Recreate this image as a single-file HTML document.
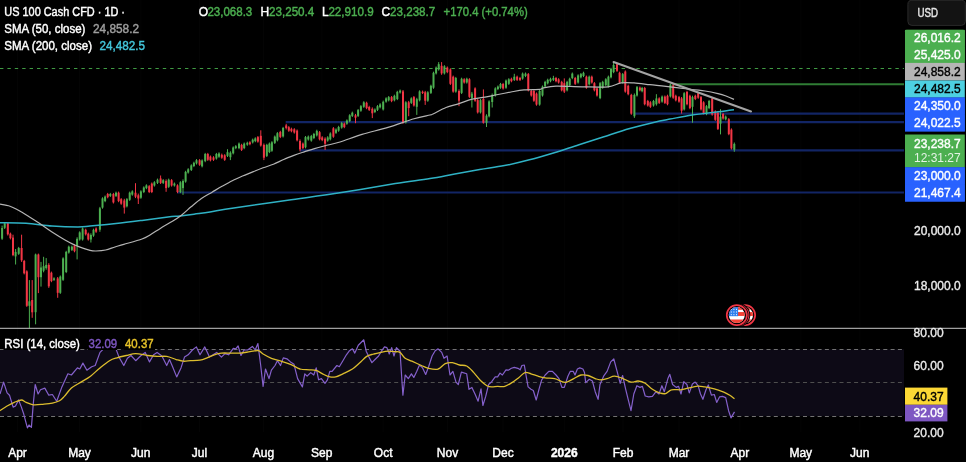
<!DOCTYPE html>
<html lang="en"><head><meta charset="utf-8"><title>US 100 Cash CFD</title>
<style>
html,body{margin:0;padding:0;background:#000;}
body{width:966px;height:462px;overflow:hidden;}
svg{display:block;font-family:"Liberation Sans",sans-serif;}
.t{font-size:12px;fill:#fff;stroke-width:0.42px;}
.ax{font-size:12px;fill:#ececec;stroke:#ececec;stroke-width:0.35px;}
.lb{font-size:12px;stroke-width:0.38px;}
</style></head><body>
<svg width="966" height="462" viewBox="0 0 966 462">
<rect width="966" height="462" fill="#000"/>
<g stroke="#fff" stroke-opacity="0.014" stroke-width="1">
<line x1="17.5" y1="0" x2="17.5" y2="432"/>
<line x1="79.5" y1="0" x2="79.5" y2="432"/>
<line x1="140.8" y1="0" x2="140.8" y2="432"/>
<line x1="199.5" y1="0" x2="199.5" y2="432"/>
<line x1="263.5" y1="0" x2="263.5" y2="432"/>
<line x1="321.8" y1="0" x2="321.8" y2="432"/>
<line x1="383.2" y1="0" x2="383.2" y2="432"/>
<line x1="447.5" y1="0" x2="447.5" y2="432"/>
<line x1="503" y1="0" x2="503" y2="432"/>
<line x1="564.3" y1="0" x2="564.3" y2="432"/>
<line x1="623" y1="0" x2="623" y2="432"/>
<line x1="679" y1="0" x2="679" y2="432"/>
<line x1="739.8" y1="0" x2="739.8" y2="432"/>
<line x1="800.8" y1="0" x2="800.8" y2="432"/>
<line x1="859.8" y1="0" x2="859.8" y2="432"/>
</g>
<rect x="0" y="349.3" width="904" height="66.9" fill="#0d0a16"/>
<g stroke-width="1" stroke-dasharray="4 3.3">
<line x1="0" y1="349.5" x2="904" y2="349.5" stroke="#727272"/>
<line x1="0" y1="382.5" x2="904" y2="382.5" stroke="#4e4e4e"/>
<line x1="0" y1="416.5" x2="904" y2="416.5" stroke="#727272"/>
</g>
<line x1="0" y1="68.5" x2="904" y2="68.5" stroke="#3f9a43" stroke-width="1" stroke-dasharray="3.4 4"/>
<line x1="672.5" y1="84.3" x2="904" y2="84.3" stroke="#2f7d34" stroke-width="2"/>
<g stroke="#122565" stroke-width="2.2">
<line x1="634" y1="113.7" x2="904" y2="113.7"/>
<line x1="285.7" y1="122.2" x2="904" y2="122.2"/>
<line x1="300" y1="150.4" x2="904" y2="150.4"/>
<line x1="177" y1="192.5" x2="904" y2="192.5"/>
</g>
<g fill="#4caf50" stroke="#4caf50" stroke-width="1">
<line x1="2.1" y1="225.6" x2="2.1" y2="239.9"/>
<rect x="1.1" y="228" width="2" height="10.7" stroke="none"/>
<line x1="4.7" y1="222.2" x2="4.7" y2="229"/>
<rect x="3.7" y="223.3" width="2" height="4.5" stroke="none"/>
<line x1="15.6" y1="249" x2="15.6" y2="264.5"/>
<rect x="14.6" y="251.9" width="2" height="4.5" stroke="none"/>
<line x1="18.7" y1="246.9" x2="18.7" y2="254.9"/>
<rect x="17.7" y="248" width="2" height="5.8" stroke="none"/>
<line x1="29.4" y1="280.1" x2="29.4" y2="328.2"/>
<rect x="28.4" y="301.3" width="2" height="4.5" stroke="none"/>
<line x1="35.6" y1="253.6" x2="35.6" y2="324.3"/>
<rect x="34.6" y="254.5" width="2" height="57.7" stroke="none"/>
<line x1="41" y1="261.9" x2="41" y2="286.6"/>
<rect x="40" y="267.5" width="2" height="9.7" stroke="none"/>
<line x1="43.6" y1="256.8" x2="43.6" y2="272.3"/>
<rect x="42.6" y="266.2" width="2" height="4.5" stroke="none"/>
<line x1="46.2" y1="258.1" x2="46.2" y2="269.7"/>
<rect x="45.2" y="264.9" width="2" height="3.2" stroke="none"/>
<line x1="54" y1="277.3" x2="54" y2="280.9"/>
<rect x="53" y="278.4" width="2" height="1.4" stroke="none"/>
<line x1="60.3" y1="275.5" x2="60.3" y2="293.9"/>
<rect x="59.3" y="276.6" width="2" height="16.2" stroke="none"/>
<line x1="63.1" y1="257.3" x2="63.1" y2="280.9"/>
<rect x="62.1" y="258.4" width="2" height="21.4" stroke="none"/>
<line x1="66.2" y1="250.8" x2="66.2" y2="273.1"/>
<rect x="65.2" y="251.9" width="2" height="20.1" stroke="none"/>
<line x1="68.8" y1="245.6" x2="68.8" y2="253.6"/>
<rect x="67.8" y="246.7" width="2" height="5.8" stroke="none"/>
<line x1="71.9" y1="245.6" x2="71.9" y2="251"/>
<rect x="70.9" y="246.7" width="2" height="3.2" stroke="none"/>
<line x1="77.1" y1="237.3" x2="77.1" y2="259.4"/>
<rect x="76.1" y="238.9" width="2" height="7.1" stroke="none"/>
<line x1="79.7" y1="231.3" x2="79.7" y2="240.6"/>
<rect x="78.7" y="232.4" width="2" height="7.1" stroke="none"/>
<line x1="82.6" y1="227.4" x2="82.6" y2="240.6"/>
<rect x="81.6" y="228.5" width="2" height="11" stroke="none"/>
<line x1="90.9" y1="233.4" x2="90.9" y2="242.5"/>
<rect x="89.9" y="235" width="2" height="4.5" stroke="none"/>
<line x1="93.5" y1="228.7" x2="93.5" y2="236.8"/>
<rect x="92.5" y="229.8" width="2" height="5.8" stroke="none"/>
<line x1="99.9" y1="206.9" x2="99.9" y2="231.8"/>
<rect x="98.9" y="208.3" width="2" height="21.4" stroke="none"/>
<line x1="102.5" y1="197.3" x2="102.5" y2="208.7"/>
<rect x="101.5" y="198.4" width="2" height="9.2" stroke="none"/>
<line x1="105.1" y1="195.5" x2="105.1" y2="202.2"/>
<rect x="104.1" y="196.6" width="2" height="4.5" stroke="none"/>
<line x1="110.3" y1="192.9" x2="110.3" y2="197"/>
<rect x="109.3" y="194" width="2" height="1.9" stroke="none"/>
<line x1="116" y1="191.6" x2="116" y2="197"/>
<rect x="115" y="192.7" width="2" height="3.2" stroke="none"/>
<line x1="126.9" y1="198.1" x2="126.9" y2="207.4"/>
<rect x="125.9" y="199.2" width="2" height="7.1" stroke="none"/>
<line x1="129.7" y1="191.6" x2="129.7" y2="200.9"/>
<rect x="128.7" y="192.7" width="2" height="7.1" stroke="none"/>
<line x1="132.3" y1="190.3" x2="132.3" y2="195.7"/>
<rect x="131.3" y="191.4" width="2" height="3.2" stroke="none"/>
<line x1="140.9" y1="190.3" x2="140.9" y2="198.8"/>
<rect x="139.9" y="191.4" width="2" height="6.3" stroke="none"/>
<line x1="143.8" y1="186.4" x2="143.8" y2="193.1"/>
<rect x="142.8" y="187.5" width="2" height="4.5" stroke="none"/>
<line x1="146.4" y1="184.3" x2="146.4" y2="189.2"/>
<rect x="145.4" y="185.4" width="2" height="2.7" stroke="none"/>
<line x1="154.4" y1="181.2" x2="154.4" y2="186.6"/>
<rect x="153.4" y="182.3" width="2" height="3.2" stroke="none"/>
<line x1="157.5" y1="178.6" x2="157.5" y2="184"/>
<rect x="156.5" y="179.7" width="2" height="3.2" stroke="none"/>
<line x1="163.2" y1="179.1" x2="163.2" y2="184"/>
<rect x="162.2" y="180.2" width="2" height="2.7" stroke="none"/>
<line x1="168.7" y1="178.6" x2="168.7" y2="187.9"/>
<rect x="167.7" y="179.7" width="2" height="7.1" stroke="none"/>
<line x1="174.4" y1="182.5" x2="174.4" y2="186.6"/>
<rect x="173.4" y="183.6" width="2" height="1.9" stroke="none"/>
<line x1="180.4" y1="181.2" x2="180.4" y2="193.1"/>
<rect x="179.4" y="182.3" width="2" height="9.7" stroke="none"/>
<line x1="183" y1="179.4" x2="183" y2="194.9"/>
<rect x="182" y="181" width="2" height="7.1" stroke="none"/>
<line x1="185.6" y1="170.8" x2="185.6" y2="182.7"/>
<rect x="184.6" y="171.9" width="2" height="9.7" stroke="none"/>
<line x1="188.2" y1="168.2" x2="188.2" y2="173.6"/>
<rect x="187.2" y="169.3" width="2" height="3.2" stroke="none"/>
<line x1="191.3" y1="164.3" x2="191.3" y2="171"/>
<rect x="190.3" y="165.4" width="2" height="4.5" stroke="none"/>
<line x1="193.9" y1="161.7" x2="193.9" y2="167.1"/>
<rect x="192.9" y="162.8" width="2" height="3.2" stroke="none"/>
<line x1="196.5" y1="159.1" x2="196.5" y2="164.5"/>
<rect x="195.5" y="160.2" width="2" height="3.2" stroke="none"/>
<line x1="202.1" y1="159.4" x2="202.1" y2="167.4"/>
<rect x="201.1" y="160.5" width="2" height="5.8" stroke="none"/>
<line x1="205.2" y1="152.9" x2="205.2" y2="162.2"/>
<rect x="204.2" y="154" width="2" height="7.1" stroke="none"/>
<line x1="216.4" y1="152.9" x2="216.4" y2="159.6"/>
<rect x="215.4" y="154" width="2" height="4.5" stroke="none"/>
<line x1="219" y1="152.3" x2="219" y2="157.8"/>
<rect x="218" y="153.5" width="2" height="3.2" stroke="none"/>
<line x1="227.5" y1="149.2" x2="227.5" y2="157"/>
<rect x="226.5" y="152.2" width="2" height="3.7" stroke="none"/>
<line x1="230.4" y1="151.3" x2="230.4" y2="160.1"/>
<rect x="229.4" y="152.7" width="2" height="4.5" stroke="none"/>
<line x1="233.2" y1="146.4" x2="233.2" y2="154.4"/>
<rect x="232.2" y="147.5" width="2" height="5.8" stroke="none"/>
<line x1="235.8" y1="145.1" x2="235.8" y2="149.2"/>
<rect x="234.8" y="146.2" width="2" height="1.9" stroke="none"/>
<line x1="239" y1="142.5" x2="239" y2="149.2"/>
<rect x="238" y="143.6" width="2" height="4.5" stroke="none"/>
<line x1="244.2" y1="142.5" x2="244.2" y2="149.2"/>
<rect x="243.2" y="143.6" width="2" height="4.5" stroke="none"/>
<line x1="247.3" y1="141.7" x2="247.3" y2="145.8"/>
<rect x="246.3" y="142.8" width="2" height="1.9" stroke="none"/>
<line x1="252.7" y1="138.6" x2="252.7" y2="143.5"/>
<rect x="251.7" y="139.7" width="2" height="2.7" stroke="none"/>
<line x1="255.3" y1="137.3" x2="255.3" y2="142.2"/>
<rect x="254.3" y="138.4" width="2" height="2.7" stroke="none"/>
<line x1="266.8" y1="143.8" x2="266.8" y2="157"/>
<rect x="265.8" y="144.9" width="2" height="11" stroke="none"/>
<line x1="269.4" y1="142.5" x2="269.4" y2="153.1"/>
<rect x="268.4" y="143.6" width="2" height="8.4" stroke="none"/>
<line x1="271.9" y1="141.2" x2="271.9" y2="151.8"/>
<rect x="270.9" y="142.3" width="2" height="8.4" stroke="none"/>
<line x1="274.8" y1="135.5" x2="274.8" y2="144"/>
<rect x="273.8" y="136.6" width="2" height="6.3" stroke="none"/>
<line x1="277.4" y1="132.1" x2="277.4" y2="141.4"/>
<rect x="276.4" y="133.2" width="2" height="7.1" stroke="none"/>
<line x1="283.1" y1="126.9" x2="283.1" y2="137.5"/>
<rect x="282.1" y="128" width="2" height="8.4" stroke="none"/>
<line x1="305.5" y1="136" x2="305.5" y2="148.4"/>
<rect x="304.5" y="137.1" width="2" height="10.2" stroke="none"/>
<line x1="308.3" y1="135.5" x2="308.3" y2="140.6"/>
<rect x="307.3" y="136.6" width="2" height="2.9" stroke="none"/>
<line x1="311.3" y1="134.9" x2="311.3" y2="141.7"/>
<rect x="310.3" y="136.1" width="2" height="4.5" stroke="none"/>
<line x1="313.9" y1="132.9" x2="313.9" y2="139.1"/>
<rect x="312.9" y="134" width="2" height="4" stroke="none"/>
<line x1="316.8" y1="129.7" x2="316.8" y2="136.5"/>
<rect x="315.8" y="130.9" width="2" height="4.5" stroke="none"/>
<line x1="327.7" y1="136.2" x2="327.7" y2="141.7"/>
<rect x="326.7" y="137.4" width="2" height="3.2" stroke="none"/>
<line x1="330.3" y1="132.3" x2="330.3" y2="140.4"/>
<rect x="329.3" y="133.5" width="2" height="5.8" stroke="none"/>
<line x1="336" y1="128.4" x2="336" y2="133.9"/>
<rect x="335" y="129.6" width="2" height="3.2" stroke="none"/>
<line x1="338.6" y1="125.8" x2="338.6" y2="131.8"/>
<rect x="337.6" y="127" width="2" height="3.7" stroke="none"/>
<line x1="341.7" y1="121.9" x2="341.7" y2="128.7"/>
<rect x="340.7" y="123.1" width="2" height="4.5" stroke="none"/>
<line x1="346.9" y1="119.4" x2="346.9" y2="124.8"/>
<rect x="345.9" y="120.5" width="2" height="3.2" stroke="none"/>
<line x1="349.7" y1="114.2" x2="349.7" y2="122.2"/>
<rect x="348.7" y="115.3" width="2" height="5.8" stroke="none"/>
<line x1="352.3" y1="111.6" x2="352.3" y2="117"/>
<rect x="351.3" y="112.7" width="2" height="3.2" stroke="none"/>
<line x1="358.1" y1="109" x2="358.1" y2="117"/>
<rect x="357.1" y="110.1" width="2" height="5.8" stroke="none"/>
<line x1="360.9" y1="105.1" x2="360.9" y2="111.8"/>
<rect x="359.9" y="106.2" width="2" height="4.5" stroke="none"/>
<line x1="363.8" y1="101.2" x2="363.8" y2="107.9"/>
<rect x="362.8" y="102.3" width="2" height="4.5" stroke="none"/>
<line x1="374.9" y1="108.4" x2="374.9" y2="113.1"/>
<rect x="373.9" y="109.6" width="2" height="2.4" stroke="none"/>
<line x1="377.5" y1="105.1" x2="377.5" y2="111"/>
<rect x="376.5" y="106.2" width="2" height="3.7" stroke="none"/>
<line x1="380.1" y1="103.2" x2="380.1" y2="108.4"/>
<rect x="379.1" y="104.4" width="2" height="2.9" stroke="none"/>
<line x1="383.2" y1="100.6" x2="383.2" y2="110.5"/>
<rect x="382.2" y="101.8" width="2" height="7.6" stroke="none"/>
<line x1="386.1" y1="97.3" x2="386.1" y2="102.7"/>
<rect x="385.1" y="98.4" width="2" height="3.2" stroke="none"/>
<line x1="388.7" y1="96" x2="388.7" y2="101.4"/>
<rect x="387.7" y="97.1" width="2" height="3.2" stroke="none"/>
<line x1="394.4" y1="94.7" x2="394.4" y2="101.4"/>
<rect x="393.4" y="95.8" width="2" height="4.5" stroke="none"/>
<line x1="397.3" y1="90.8" x2="397.3" y2="100.1"/>
<rect x="396.3" y="91.9" width="2" height="7.1" stroke="none"/>
<line x1="400.1" y1="89.5" x2="400.1" y2="93.6"/>
<rect x="399.1" y="90.6" width="2" height="1.9" stroke="none"/>
<line x1="405.8" y1="101.2" x2="405.8" y2="123.5"/>
<rect x="404.8" y="102.3" width="2" height="20.1" stroke="none"/>
<line x1="411.3" y1="97.3" x2="411.3" y2="104"/>
<rect x="410.3" y="98.4" width="2" height="4.5" stroke="none"/>
<line x1="416.8" y1="97.8" x2="416.8" y2="114.9"/>
<rect x="415.8" y="99.2" width="2" height="7.6" stroke="none"/>
<line x1="419.6" y1="90.3" x2="419.6" y2="101.4"/>
<rect x="418.6" y="91.4" width="2" height="8.9" stroke="none"/>
<line x1="427.8" y1="91.2" x2="427.8" y2="101.8"/>
<rect x="426.8" y="92.3" width="2" height="8.4" stroke="none"/>
<line x1="430.9" y1="84.7" x2="430.9" y2="94"/>
<rect x="429.9" y="85.8" width="2" height="7.1" stroke="none"/>
<line x1="433.5" y1="71.7" x2="433.5" y2="88.8"/>
<rect x="432.5" y="72.8" width="2" height="14.9" stroke="none"/>
<line x1="436.1" y1="66.5" x2="436.1" y2="74.5"/>
<rect x="435.1" y="67.6" width="2" height="5.8" stroke="none"/>
<line x1="438.7" y1="62.1" x2="438.7" y2="70.6"/>
<rect x="437.7" y="64.2" width="2" height="5.3" stroke="none"/>
<line x1="444.4" y1="65.2" x2="444.4" y2="74.5"/>
<rect x="443.4" y="66.3" width="2" height="7.1" stroke="none"/>
<line x1="455.8" y1="76.9" x2="455.8" y2="92.7"/>
<rect x="454.8" y="78" width="2" height="13.6" stroke="none"/>
<line x1="461.6" y1="77.7" x2="461.6" y2="94"/>
<rect x="460.6" y="78.8" width="2" height="14.1" stroke="none"/>
<line x1="466.8" y1="77.7" x2="466.8" y2="83.6"/>
<rect x="465.8" y="78.8" width="2" height="3.7" stroke="none"/>
<line x1="471.9" y1="91.9" x2="471.9" y2="107.5"/>
<rect x="470.9" y="93.6" width="2" height="4.5" stroke="none"/>
<line x1="480.5" y1="99" x2="480.5" y2="113.5"/>
<rect x="479.5" y="100.1" width="2" height="12.3" stroke="none"/>
<line x1="486.5" y1="114.3" x2="486.5" y2="127"/>
<rect x="485.5" y="115.7" width="2" height="7.1" stroke="none"/>
<line x1="489.1" y1="100.3" x2="489.1" y2="117.4"/>
<rect x="488.1" y="101.4" width="2" height="14.9" stroke="none"/>
<line x1="492.2" y1="93.5" x2="492.2" y2="107.5"/>
<rect x="491.2" y="94.9" width="2" height="7.1" stroke="none"/>
<line x1="495.3" y1="87.3" x2="495.3" y2="96.6"/>
<rect x="494.3" y="88.4" width="2" height="7.1" stroke="none"/>
<line x1="497.9" y1="85.5" x2="497.9" y2="90.1"/>
<rect x="496.9" y="86.6" width="2" height="2.4" stroke="none"/>
<line x1="500.5" y1="82.9" x2="500.5" y2="88.8"/>
<rect x="499.5" y="84" width="2" height="3.7" stroke="none"/>
<line x1="506" y1="79.5" x2="506" y2="88.8"/>
<rect x="505" y="80.6" width="2" height="7.1" stroke="none"/>
<line x1="508.8" y1="78.2" x2="508.8" y2="84.9"/>
<rect x="507.8" y="79.3" width="2" height="4.5" stroke="none"/>
<line x1="514.3" y1="73.8" x2="514.3" y2="81"/>
<rect x="513.3" y="76.7" width="2" height="3.2" stroke="none"/>
<line x1="522.6" y1="72.5" x2="522.6" y2="79.7"/>
<rect x="521.6" y="73.6" width="2" height="5" stroke="none"/>
<line x1="525.5" y1="72.5" x2="525.5" y2="77.1"/>
<rect x="524.5" y="73.6" width="2" height="2.4" stroke="none"/>
<line x1="539.6" y1="89.9" x2="539.6" y2="105.7"/>
<rect x="538.6" y="91" width="2" height="13.6" stroke="none"/>
<line x1="542.5" y1="85.5" x2="542.5" y2="96.6"/>
<rect x="541.5" y="86.6" width="2" height="8.9" stroke="none"/>
<line x1="545.1" y1="80.8" x2="545.1" y2="87.5"/>
<rect x="544.1" y="81.9" width="2" height="4.5" stroke="none"/>
<line x1="547.7" y1="78.7" x2="547.7" y2="84.4"/>
<rect x="546.7" y="79.8" width="2" height="3.5" stroke="none"/>
<line x1="550.5" y1="77.7" x2="550.5" y2="82.3"/>
<rect x="549.5" y="78.8" width="2" height="2.4" stroke="none"/>
<line x1="553.4" y1="75.8" x2="553.4" y2="81"/>
<rect x="552.4" y="78" width="2" height="1.9" stroke="none"/>
<line x1="567.1" y1="80.8" x2="567.1" y2="91.4"/>
<rect x="566.1" y="81.9" width="2" height="8.4" stroke="none"/>
<line x1="569.7" y1="77.7" x2="569.7" y2="86.2"/>
<rect x="568.7" y="78.8" width="2" height="6.3" stroke="none"/>
<line x1="572.3" y1="72.5" x2="572.3" y2="79.2"/>
<rect x="571.3" y="73.6" width="2" height="4.5" stroke="none"/>
<line x1="578.1" y1="74.3" x2="578.1" y2="83.6"/>
<rect x="577.1" y="75.4" width="2" height="7.1" stroke="none"/>
<line x1="580.9" y1="73" x2="580.9" y2="78.4"/>
<rect x="579.9" y="74.1" width="2" height="3.2" stroke="none"/>
<line x1="583.5" y1="71.7" x2="583.5" y2="77.1"/>
<rect x="582.5" y="72.8" width="2" height="3.2" stroke="none"/>
<line x1="589.2" y1="75.6" x2="589.2" y2="85.5"/>
<rect x="588.2" y="76.7" width="2" height="7.6" stroke="none"/>
<line x1="600.1" y1="82.1" x2="600.1" y2="99.2"/>
<rect x="599.1" y="83.2" width="2" height="14.9" stroke="none"/>
<line x1="602.7" y1="80.8" x2="602.7" y2="88.8"/>
<rect x="601.7" y="81.9" width="2" height="5.8" stroke="none"/>
<line x1="605.8" y1="78.2" x2="605.8" y2="86.2"/>
<rect x="604.8" y="79.3" width="2" height="5.8" stroke="none"/>
<line x1="608.4" y1="75.6" x2="608.4" y2="87.5"/>
<rect x="607.4" y="76.7" width="2" height="9.7" stroke="none"/>
<line x1="611" y1="67.8" x2="611" y2="78.4"/>
<rect x="610" y="68.9" width="2" height="8.4" stroke="none"/>
<line x1="613.6" y1="62.9" x2="613.6" y2="73.2"/>
<rect x="612.6" y="65" width="2" height="7.1" stroke="none"/>
<line x1="622.7" y1="73" x2="622.7" y2="83.6"/>
<rect x="621.7" y="74.1" width="2" height="8.4" stroke="none"/>
<line x1="634.4" y1="93.5" x2="634.4" y2="117.9"/>
<rect x="633.4" y="94.9" width="2" height="21.4" stroke="none"/>
<line x1="637" y1="86" x2="637" y2="96.6"/>
<rect x="636" y="87.1" width="2" height="8.4" stroke="none"/>
<line x1="642.1" y1="86.9" x2="642.1" y2="92.3"/>
<rect x="641.1" y="88" width="2" height="3.2" stroke="none"/>
<line x1="653.5" y1="99.9" x2="653.5" y2="106.6"/>
<rect x="652.5" y="101" width="2" height="4.5" stroke="none"/>
<line x1="656.4" y1="94.2" x2="656.4" y2="105.6"/>
<rect x="655.4" y="98.4" width="2" height="5.8" stroke="none"/>
<line x1="662.1" y1="95.5" x2="662.1" y2="102.7"/>
<rect x="661.1" y="96.6" width="2" height="5" stroke="none"/>
<line x1="670.4" y1="83.5" x2="670.4" y2="97.5"/>
<rect x="669.4" y="84.6" width="2" height="11.8" stroke="none"/>
<line x1="684.2" y1="92.1" x2="684.2" y2="110.5"/>
<rect x="683.2" y="93.2" width="2" height="16.2" stroke="none"/>
<line x1="692.5" y1="95.7" x2="692.5" y2="122.7"/>
<rect x="691.5" y="97.1" width="2" height="9.7" stroke="none"/>
<line x1="706.5" y1="105.1" x2="706.5" y2="115.2"/>
<rect x="705.5" y="106.2" width="2" height="7.9" stroke="none"/>
<line x1="709.1" y1="99.9" x2="709.1" y2="109.2"/>
<rect x="708.1" y="101" width="2" height="7.1" stroke="none"/>
<line x1="720.5" y1="109.2" x2="720.5" y2="134.4"/>
<rect x="719.5" y="116.6" width="2" height="7.1" stroke="none"/>
<line x1="725.7" y1="115.5" x2="725.7" y2="120.4"/>
<rect x="724.7" y="116.6" width="2" height="2.7" stroke="none"/>
<line x1="734.3" y1="142.5" x2="734.3" y2="151.8"/>
<rect x="733.3" y="143.9" width="2" height="5.8" stroke="none"/>
</g>
<g fill="#f23645" stroke="#f23645" stroke-width="1">
<line x1="7.8" y1="222.2" x2="7.8" y2="235.5"/>
<rect x="6.8" y="223.3" width="2" height="11" stroke="none"/>
<line x1="10.4" y1="232.6" x2="10.4" y2="239.4"/>
<rect x="9.4" y="233.7" width="2" height="4.5" stroke="none"/>
<line x1="13" y1="234.7" x2="13" y2="256.2"/>
<rect x="12" y="237.6" width="2" height="17.5" stroke="none"/>
<line x1="21.6" y1="234.7" x2="21.6" y2="261.9"/>
<rect x="20.6" y="248" width="2" height="12.3" stroke="none"/>
<line x1="24.2" y1="259.9" x2="24.2" y2="274.4"/>
<rect x="23.2" y="261" width="2" height="12.3" stroke="none"/>
<line x1="26.8" y1="270.3" x2="26.8" y2="306.9"/>
<rect x="25.8" y="271.4" width="2" height="34.4" stroke="none"/>
<line x1="32.2" y1="280.1" x2="32.2" y2="317.8"/>
<rect x="31.2" y="300" width="2" height="12.3" stroke="none"/>
<line x1="38.4" y1="253.6" x2="38.4" y2="293.1"/>
<rect x="37.4" y="254.5" width="2" height="22.7" stroke="none"/>
<line x1="48.8" y1="263.2" x2="48.8" y2="287.9"/>
<rect x="47.8" y="264.9" width="2" height="21.4" stroke="none"/>
<line x1="51.4" y1="271.6" x2="51.4" y2="282.2"/>
<rect x="50.4" y="272.7" width="2" height="8.4" stroke="none"/>
<line x1="57.7" y1="277" x2="57.7" y2="297.8"/>
<rect x="56.7" y="278.4" width="2" height="14.4" stroke="none"/>
<line x1="74.5" y1="244.3" x2="74.5" y2="252.3"/>
<rect x="73.5" y="245.4" width="2" height="5.8" stroke="none"/>
<line x1="85.7" y1="228.7" x2="85.7" y2="235.5"/>
<rect x="84.7" y="229.8" width="2" height="4.5" stroke="none"/>
<line x1="88.3" y1="232.6" x2="88.3" y2="240.6"/>
<rect x="87.3" y="233.7" width="2" height="5.8" stroke="none"/>
<line x1="96.1" y1="227.4" x2="96.1" y2="232.9"/>
<rect x="95.1" y="228.5" width="2" height="3.2" stroke="none"/>
<line x1="107.7" y1="192.9" x2="107.7" y2="198.3"/>
<rect x="106.7" y="194" width="2" height="3.2" stroke="none"/>
<line x1="113.4" y1="192.9" x2="113.4" y2="203.5"/>
<rect x="112.4" y="194" width="2" height="8.4" stroke="none"/>
<line x1="118.6" y1="191.6" x2="118.6" y2="202.2"/>
<rect x="117.6" y="192.7" width="2" height="8.4" stroke="none"/>
<line x1="121.2" y1="198.1" x2="121.2" y2="204.8"/>
<rect x="120.2" y="199.2" width="2" height="4.5" stroke="none"/>
<line x1="124.3" y1="198.8" x2="124.3" y2="213.6"/>
<rect x="123.3" y="200.5" width="2" height="7.1" stroke="none"/>
<line x1="135.5" y1="183.2" x2="135.5" y2="198.1"/>
<rect x="134.5" y="192.7" width="2" height="4" stroke="none"/>
<line x1="138.3" y1="193.6" x2="138.3" y2="204"/>
<rect x="137.3" y="195.3" width="2" height="3.2" stroke="none"/>
<line x1="149.2" y1="185.1" x2="149.2" y2="193.1"/>
<rect x="148.2" y="186.2" width="2" height="5.8" stroke="none"/>
<line x1="151.8" y1="182.5" x2="151.8" y2="193.1"/>
<rect x="150.8" y="183.6" width="2" height="8.4" stroke="none"/>
<line x1="160.6" y1="175.5" x2="160.6" y2="184"/>
<rect x="159.6" y="178.4" width="2" height="4.5" stroke="none"/>
<line x1="166.1" y1="179.4" x2="166.1" y2="191.8"/>
<rect x="165.1" y="181" width="2" height="7.1" stroke="none"/>
<line x1="171.6" y1="179.1" x2="171.6" y2="186.6"/>
<rect x="170.6" y="180.2" width="2" height="5.3" stroke="none"/>
<line x1="177.5" y1="184.3" x2="177.5" y2="193.1"/>
<rect x="176.5" y="185.4" width="2" height="6.6" stroke="none"/>
<line x1="199.6" y1="159.1" x2="199.6" y2="165.8"/>
<rect x="198.6" y="160.2" width="2" height="4.5" stroke="none"/>
<line x1="207.8" y1="152.9" x2="207.8" y2="160.9"/>
<rect x="206.8" y="154" width="2" height="5.8" stroke="none"/>
<line x1="210.4" y1="155.5" x2="210.4" y2="161.4"/>
<rect x="209.4" y="156.6" width="2" height="3.7" stroke="none"/>
<line x1="213.5" y1="156.2" x2="213.5" y2="160.9"/>
<rect x="212.5" y="157.4" width="2" height="2.4" stroke="none"/>
<line x1="221.8" y1="153.6" x2="221.8" y2="158.8"/>
<rect x="220.8" y="154.8" width="2" height="2.9" stroke="none"/>
<line x1="224.7" y1="154.2" x2="224.7" y2="160.9"/>
<rect x="223.7" y="155.3" width="2" height="4.5" stroke="none"/>
<line x1="241.6" y1="143.8" x2="241.6" y2="151"/>
<rect x="240.6" y="144.9" width="2" height="5" stroke="none"/>
<line x1="249.9" y1="141.2" x2="249.9" y2="145.3"/>
<rect x="248.9" y="142.3" width="2" height="1.9" stroke="none"/>
<line x1="257.9" y1="136" x2="257.9" y2="142.7"/>
<rect x="256.9" y="137.1" width="2" height="4.5" stroke="none"/>
<line x1="260.8" y1="130.3" x2="260.8" y2="146.6"/>
<rect x="259.8" y="135.8" width="2" height="9.7" stroke="none"/>
<line x1="263.9" y1="143.5" x2="263.9" y2="160.1"/>
<rect x="262.9" y="144.9" width="2" height="12.8" stroke="none"/>
<line x1="280.3" y1="130.8" x2="280.3" y2="138.1"/>
<rect x="279.3" y="131.9" width="2" height="5" stroke="none"/>
<line x1="286.2" y1="123.8" x2="286.2" y2="129.5"/>
<rect x="285.2" y="125.4" width="2" height="2.7" stroke="none"/>
<line x1="288.8" y1="126.1" x2="288.8" y2="131.8"/>
<rect x="287.8" y="127.2" width="2" height="3.5" stroke="none"/>
<line x1="291.4" y1="127.7" x2="291.4" y2="132.3"/>
<rect x="290.4" y="128.8" width="2" height="2.4" stroke="none"/>
<line x1="294.3" y1="128.2" x2="294.3" y2="133.6"/>
<rect x="293.3" y="129.3" width="2" height="3.2" stroke="none"/>
<line x1="297.1" y1="129.5" x2="297.1" y2="141.4"/>
<rect x="296.1" y="130.6" width="2" height="9.7" stroke="none"/>
<line x1="300" y1="139.4" x2="300" y2="151.3"/>
<rect x="299" y="141" width="2" height="8.4" stroke="none"/>
<line x1="302.9" y1="142.5" x2="302.9" y2="149.2"/>
<rect x="301.9" y="143.6" width="2" height="4.5" stroke="none"/>
<line x1="319.6" y1="131" x2="319.6" y2="140.4"/>
<rect x="318.6" y="132.2" width="2" height="7.1" stroke="none"/>
<line x1="322.2" y1="136.2" x2="322.2" y2="141.2"/>
<rect x="321.2" y="137.4" width="2" height="2.7" stroke="none"/>
<line x1="325.1" y1="137.3" x2="325.1" y2="150"/>
<rect x="324.1" y="138.7" width="2" height="5" stroke="none"/>
<line x1="333.4" y1="127.1" x2="333.4" y2="137.8"/>
<rect x="332.4" y="128.3" width="2" height="8.4" stroke="none"/>
<line x1="344.3" y1="122.5" x2="344.3" y2="128.2"/>
<rect x="343.3" y="123.6" width="2" height="3.5" stroke="none"/>
<line x1="355.5" y1="113.9" x2="355.5" y2="123.2"/>
<rect x="354.5" y="115.3" width="2" height="2.4" stroke="none"/>
<line x1="366.6" y1="101.7" x2="366.6" y2="109.2"/>
<rect x="365.6" y="102.8" width="2" height="5.3" stroke="none"/>
<line x1="369.2" y1="105.8" x2="369.2" y2="111"/>
<rect x="368.2" y="107" width="2" height="2.9" stroke="none"/>
<line x1="372.3" y1="107.4" x2="372.3" y2="118.1"/>
<rect x="371.3" y="108.8" width="2" height="4.5" stroke="none"/>
<line x1="391.6" y1="96" x2="391.6" y2="102.2"/>
<rect x="390.6" y="97.1" width="2" height="4" stroke="none"/>
<line x1="403" y1="90" x2="403" y2="123.8"/>
<rect x="402" y="91.4" width="2" height="31" stroke="none"/>
<line x1="408.7" y1="100.9" x2="408.7" y2="116.2"/>
<rect x="407.7" y="102.3" width="2" height="5.8" stroke="none"/>
<line x1="413.9" y1="96" x2="413.9" y2="106.6"/>
<rect x="412.9" y="97.1" width="2" height="8.4" stroke="none"/>
<line x1="422.6" y1="90.6" x2="422.6" y2="94"/>
<rect x="421.6" y="91.8" width="2" height="1.1" stroke="none"/>
<line x1="425.2" y1="90.9" x2="425.2" y2="104.9"/>
<rect x="424.2" y="92.3" width="2" height="8.4" stroke="none"/>
<line x1="441.6" y1="62.1" x2="441.6" y2="74.8"/>
<rect x="440.6" y="65.8" width="2" height="7.6" stroke="none"/>
<line x1="447.3" y1="66.5" x2="447.3" y2="73.2"/>
<rect x="446.3" y="67.6" width="2" height="4.5" stroke="none"/>
<line x1="450.4" y1="68.3" x2="450.4" y2="84.9"/>
<rect x="449.4" y="69.4" width="2" height="14.4" stroke="none"/>
<line x1="453.2" y1="75.6" x2="453.2" y2="92.7"/>
<rect x="452.2" y="76.7" width="2" height="14.9" stroke="none"/>
<line x1="459" y1="89.4" x2="459" y2="106.2"/>
<rect x="458" y="91" width="2" height="9.7" stroke="none"/>
<line x1="464.2" y1="78.2" x2="464.2" y2="83.6"/>
<rect x="463.2" y="79.3" width="2" height="3.2" stroke="none"/>
<line x1="469.4" y1="78.2" x2="469.4" y2="97.9"/>
<rect x="468.4" y="79.3" width="2" height="17.5" stroke="none"/>
<line x1="475.1" y1="87.3" x2="475.1" y2="101.8"/>
<rect x="474.1" y="88.4" width="2" height="12.3" stroke="none"/>
<line x1="477.7" y1="99" x2="477.7" y2="113.5"/>
<rect x="476.7" y="100.1" width="2" height="12.3" stroke="none"/>
<line x1="483.4" y1="89.4" x2="483.4" y2="123.6"/>
<rect x="482.4" y="98.8" width="2" height="24" stroke="none"/>
<line x1="503.1" y1="82.9" x2="503.1" y2="89.6"/>
<rect x="502.1" y="84" width="2" height="4.5" stroke="none"/>
<line x1="511.4" y1="77.7" x2="511.4" y2="82.3"/>
<rect x="510.4" y="78.8" width="2" height="2.4" stroke="none"/>
<line x1="517.1" y1="75.6" x2="517.1" y2="81"/>
<rect x="516.1" y="76.7" width="2" height="3.2" stroke="none"/>
<line x1="520" y1="76.9" x2="520" y2="81"/>
<rect x="519" y="78" width="2" height="1.9" stroke="none"/>
<line x1="528.3" y1="73" x2="528.3" y2="91.4"/>
<rect x="527.3" y="74.1" width="2" height="16.2" stroke="none"/>
<line x1="531.3" y1="89.9" x2="531.3" y2="96.6"/>
<rect x="530.3" y="91" width="2" height="4.5" stroke="none"/>
<line x1="533.9" y1="89.9" x2="533.9" y2="101.8"/>
<rect x="532.9" y="91" width="2" height="9.7" stroke="none"/>
<line x1="536.5" y1="92.5" x2="536.5" y2="105.7"/>
<rect x="535.5" y="93.6" width="2" height="11" stroke="none"/>
<line x1="556" y1="76.9" x2="556" y2="82.3"/>
<rect x="555" y="78" width="2" height="3.2" stroke="none"/>
<line x1="558.6" y1="78.2" x2="558.6" y2="83.6"/>
<rect x="557.6" y="79.3" width="2" height="3.2" stroke="none"/>
<line x1="561.7" y1="80.8" x2="561.7" y2="91.4"/>
<rect x="560.7" y="81.9" width="2" height="8.4" stroke="none"/>
<line x1="564.3" y1="78.4" x2="564.3" y2="93"/>
<rect x="563.3" y="83.2" width="2" height="8.4" stroke="none"/>
<line x1="575.2" y1="76.9" x2="575.2" y2="84.9"/>
<rect x="574.2" y="78" width="2" height="5.8" stroke="none"/>
<line x1="586.4" y1="75.6" x2="586.4" y2="88.8"/>
<rect x="585.4" y="76.7" width="2" height="11" stroke="none"/>
<line x1="591.8" y1="75.6" x2="591.8" y2="83.6"/>
<rect x="590.8" y="76.7" width="2" height="5.8" stroke="none"/>
<line x1="594.4" y1="82.1" x2="594.4" y2="91.4"/>
<rect x="593.4" y="83.2" width="2" height="7.1" stroke="none"/>
<line x1="597" y1="87.3" x2="597" y2="96.6"/>
<rect x="596" y="88.4" width="2" height="7.1" stroke="none"/>
<line x1="617" y1="63.1" x2="617" y2="71.9"/>
<rect x="616" y="64.2" width="2" height="6.6" stroke="none"/>
<line x1="619.6" y1="71.7" x2="619.6" y2="83.6"/>
<rect x="618.6" y="72.8" width="2" height="9.7" stroke="none"/>
<line x1="625.3" y1="70.4" x2="625.3" y2="92.7"/>
<rect x="624.3" y="71.5" width="2" height="20.1" stroke="none"/>
<line x1="628.2" y1="84.7" x2="628.2" y2="95.3"/>
<rect x="627.2" y="85.8" width="2" height="8.4" stroke="none"/>
<line x1="631.3" y1="93.8" x2="631.3" y2="114.8"/>
<rect x="630.3" y="94.9" width="2" height="18.8" stroke="none"/>
<line x1="639.9" y1="86.5" x2="639.9" y2="91.4"/>
<rect x="638.9" y="87.6" width="2" height="2.7" stroke="none"/>
<line x1="644.7" y1="86.9" x2="644.7" y2="105.3"/>
<rect x="643.7" y="88" width="2" height="16.2" stroke="none"/>
<line x1="647.8" y1="99.9" x2="647.8" y2="106.6"/>
<rect x="646.8" y="101" width="2" height="4.5" stroke="none"/>
<line x1="650.4" y1="101.2" x2="650.4" y2="107.9"/>
<rect x="649.4" y="102.3" width="2" height="4.5" stroke="none"/>
<line x1="659.2" y1="97.3" x2="659.2" y2="104"/>
<rect x="658.2" y="98.4" width="2" height="4.5" stroke="none"/>
<line x1="664.9" y1="95.5" x2="664.9" y2="104"/>
<rect x="663.9" y="96.6" width="2" height="6.3" stroke="none"/>
<line x1="667.5" y1="94.7" x2="667.5" y2="105.3"/>
<rect x="666.5" y="95.8" width="2" height="8.4" stroke="none"/>
<line x1="673.2" y1="84.3" x2="673.2" y2="98.8"/>
<rect x="672.2" y="85.4" width="2" height="12.3" stroke="none"/>
<line x1="675.8" y1="94.7" x2="675.8" y2="101.4"/>
<rect x="674.8" y="95.8" width="2" height="4.5" stroke="none"/>
<line x1="679" y1="96" x2="679" y2="102.7"/>
<rect x="678" y="97.1" width="2" height="4.5" stroke="none"/>
<line x1="681.6" y1="97" x2="681.6" y2="113.6"/>
<rect x="680.6" y="98.4" width="2" height="12.3" stroke="none"/>
<line x1="687" y1="90.8" x2="687" y2="105.3"/>
<rect x="686" y="91.9" width="2" height="12.3" stroke="none"/>
<line x1="689.9" y1="94.7" x2="689.9" y2="109.2"/>
<rect x="688.9" y="95.8" width="2" height="12.3" stroke="none"/>
<line x1="695.3" y1="94.7" x2="695.3" y2="100.1"/>
<rect x="694.3" y="95.8" width="2" height="3.2" stroke="none"/>
<line x1="698.2" y1="92.1" x2="698.2" y2="98.8"/>
<rect x="697.2" y="93.2" width="2" height="4.5" stroke="none"/>
<line x1="701" y1="96" x2="701" y2="110.5"/>
<rect x="700" y="97.1" width="2" height="12.3" stroke="none"/>
<line x1="703.6" y1="101.2" x2="703.6" y2="114.4"/>
<rect x="702.6" y="102.3" width="2" height="11" stroke="none"/>
<line x1="712.2" y1="97.3" x2="712.2" y2="115.7"/>
<rect x="711.2" y="98.4" width="2" height="16.2" stroke="none"/>
<line x1="715.3" y1="110.3" x2="715.3" y2="120.9"/>
<rect x="714.3" y="111.4" width="2" height="8.4" stroke="none"/>
<line x1="717.9" y1="111.6" x2="717.9" y2="130"/>
<rect x="716.9" y="112.7" width="2" height="16.2" stroke="none"/>
<line x1="723.1" y1="112.9" x2="723.1" y2="119.6"/>
<rect x="722.1" y="114" width="2" height="4.5" stroke="none"/>
<line x1="728.8" y1="118.1" x2="728.8" y2="135.2"/>
<rect x="727.8" y="119.2" width="2" height="14.9" stroke="none"/>
<line x1="731.4" y1="128.4" x2="731.4" y2="149.5"/>
<rect x="730.4" y="129.6" width="2" height="18.8" stroke="none"/>
</g>
<path fill="none" stroke="#2fb2c5" stroke-width="1.5" stroke-linejoin="round" d="M0,222.8C4.3,222.9 17.3,222.8 26,223.3C34.7,223.8 43.3,225.4 52,226C60.7,226.6 71.7,226.9 78,226.9C84.3,226.9 83.7,226.7 90,226.1C96.3,225.5 107.3,224.4 116,223.5C124.7,222.6 133.3,221.5 142,220.4C150.7,219.3 161.7,217.8 168,217C174.3,216.2 175.7,216.4 180,215.9C184.3,215.4 189,214.8 194,214.2C199,213.5 203.4,213.1 210,212C216.6,210.9 220.9,209.8 233.8,207.9C246.8,206 269.8,202.9 287.7,200.3C305.6,197.7 323.6,195.3 341.5,192.5C359.4,189.7 380.6,185.9 395.3,183.6C410.1,181.3 420.1,180.2 430,178.6C439.9,177 446.5,175.5 454.8,174C463.1,172.5 471.4,171 479.7,169.6C488,168.2 496.2,167.2 504.5,165.6C512.8,164 521.1,162 529.4,159.8C537.7,157.7 545.9,155.2 554.2,152.7C562.5,150.2 570.7,147.3 579,144.7C587.3,142 595.6,139.5 603.9,136.8C612.2,134.2 620.5,131.2 628.8,128.8C637.1,126.4 646.7,124 653.6,122.4C660.5,120.8 663.6,120.3 670,119.1C676.4,117.9 684,116.2 692,115C700,113.8 711,112.7 718,111.8C725,110.9 731.3,110 734,109.7"/>
<path fill="none" stroke="#b4b4b4" stroke-width="1.2" stroke-linejoin="round" d="M0,204.2C1.7,204.5 7,205.2 10,206.2C13,207.2 15,208.4 18,210C21,211.6 24.5,213.8 28,216C31.5,218.2 35,220.3 39,223C43,225.7 47.7,229.2 52,232C56.3,234.8 60.7,237.5 65,239.9C69.3,242.3 73.8,244.7 78,246.4C82.2,248.1 87,249.5 90,250.3C93,251.1 93.4,251.1 96,251C98.6,250.9 102.4,250.7 105.6,250C108.8,249.3 112,247.9 115,247C118,246.1 119.3,245.6 123.8,244.3C128.3,243 137.6,240.6 142,239C146.4,237.4 146.9,236.8 150,235C153.1,233.2 156.9,230.5 160.3,228.4C163.7,226.3 167.2,224.4 170.6,222.3C174,220.2 177.4,218.3 180.8,215.7C184.2,213.1 187.7,209.7 191.1,206.8C194.5,204 198,201 201.4,198.6C204.8,196.2 208.3,194.4 211.7,192.4C215.1,190.4 218.6,188.2 222,186.3C225.4,184.4 228.9,182.4 232.3,180.7C235.7,179 239.1,177.5 242.5,176C245.9,174.5 249.4,173.3 252.8,171.9C256.2,170.5 259.7,169.1 263.1,167.8C266.5,166.5 270,165.7 273.4,164.3C276.8,162.9 280.3,161 283.7,159.5C287.1,158 290.5,156.7 293.9,155.4C297.3,154.1 300.8,153 304.2,151.9C307.6,150.8 311.1,149.6 314.5,148.6C317.9,147.6 320.6,146.9 324.8,145.8C329.1,144.7 333.8,143.9 340,142C346.2,140.1 354,136.8 362,134.4C370,132 379.3,130 388,127.4C396.7,124.8 407,120.9 414,118.8C421,116.7 426.8,115.8 430,115C433.2,114.2 430.3,115.2 433,114C435.7,112.8 441.7,109.2 446,107.5C450.3,105.8 454.7,105 459,103.6C463.3,102.2 467.7,100.3 472,99.2C476.3,98.1 480.7,97.9 485,97.1C489.3,96.3 493.7,95.3 498,94.5C502.3,93.7 506.7,92.8 511,92C515.3,91.2 519.2,90.3 524,89.9C528.8,89.5 536.8,89.7 540,89.4C543.2,89.1 540.3,88.5 543,88C545.7,87.5 549.5,86.4 556,86.2C562.5,86 573.3,86.7 582,86.8C590.7,86.9 601.5,87.4 608,86.8C614.5,86.2 616.7,83.6 621,82.9C625.3,82.2 629.2,82.6 634,82.9C638.8,83.2 644.7,84.1 650,84.7C655.3,85.3 659,85.6 666,86.4C673,87.2 685.5,88.7 692,89.5C698.5,90.3 700.7,90.3 705,91C709.3,91.7 714.5,92.8 718,93.6C721.5,94.4 723.3,95 726,96C728.7,97 732.7,98.8 734,99.4"/>
<line x1="613.6" y1="62" x2="751" y2="111.4" stroke="#a4a4a4" stroke-width="2.1" stroke-linecap="round"/>
<rect x="0" y="327.8" width="966" height="1" fill="#c6c6c6"/>
<polyline fill="none" stroke="#8561cb" stroke-width="1.2" stroke-linejoin="round" points="0,394 3.6,382.1 7.1,392.9 9.5,395.2 13.1,407.1 15.5,406 18.6,400 21.4,407.1 23.8,414.3 27.4,427.9 29,425 31.4,427.4 33.3,403.6 35.2,384.5 38.1,394 40.5,389.8 44.8,388.1 48.8,395.2 52.4,394.5 56.7,401.2 61.9,386.9 67.9,373.8 71.4,375 77.4,367.9 79.8,369 82.9,363.1 86.9,370.2 91.7,366.7 95.2,365.5 100,352.4 103.6,348.8 108.3,348.8 111.9,345.2 115.5,347.6 119,357.1 123.8,365.5 127.4,358.3 131,355.5 135.7,360.7 140.5,356 145.2,352.4 149.5,361.9 153.6,354.8 157.1,352.4 161.9,356 166.7,365.5 169.5,359.5 172.6,366.7 176.7,376.9 181,367.9 184.5,357.1 188.1,354.8 192.4,350 196.4,346.9 200,354.8 204.8,346.9 209.5,357.1 213.1,354.8 216.7,352.4 221.4,357.1 225,353.6 228.6,354.8 233.3,348.3 235.7,348.8 238.1,346 241,355.5 244,350 247.6,350 252.4,346.4 255.2,350 257.9,343.6 260.7,365.5 263.1,386.4 265.5,369 269,378.6 271.4,370.2 275,365.5 277.4,360.7 280.5,365.5 283.3,357.9 286.9,358.8 290.5,361.9 294,364.3 297.6,378.6 302.4,386.9 304.8,373.8 307.1,376.2 310.7,372.6 313.8,375 316.2,367.9 318.6,379.8 321.4,378.6 325,383.3 327.4,379.8 329.8,371.4 332.1,371.4 336.9,365.5 339.3,366.7 342.9,360.7 346.4,354.8 349.5,350.7 352.4,348.8 354.8,353.1 358.3,345.2 363.8,339.8 366.2,351.2 369,357.1 371.9,362.6 375,359.5 378.6,356 381.4,351.2 384.5,346.9 386.9,347.6 389.3,354 391.7,347.6 394,356 396.4,347.6 398.8,350 400,351.2 402.9,395.2 405.2,375 408.3,378.6 411.4,373.8 413.8,377.4 416.7,371.4 419.5,365 422.6,367.9 425.7,374.5 428.6,366.7 432.1,356 435.2,350.7 438.1,348.8 441.7,352.4 444,358.3 447.1,356 450,375 452.9,371.4 456,382.1 458.3,384.5 461.4,372.1 466.7,373.8 469,389.3 471.9,387.4 475,394 478.1,401.2 481,388.8 482.9,405.5 485.7,396.4 488.6,384.5 491.7,381.7 495.2,376.9 497.6,376.9 500,373.1 502.4,375 506,369.8 508.3,370.2 511.4,368.3 514.3,367.4 517.9,368.3 520.2,369.8 521.9,365.5 524.3,365 526.2,376.2 528.1,386.9 531,389.3 533.3,390.5 536.2,400 539.3,388.1 541.7,379.8 545.2,375 548.8,371.4 552.4,371.4 556,375 559,378.6 561.9,387.4 564.3,387.4 567.9,376.2 570.2,371.4 573.3,371.4 575,375 577.4,369 579.8,367.9 582.9,369 584.5,372.6 585.7,382.6 589.3,379.3 592.4,381 595.2,391.7 598.1,399.3 600,384.5 603.6,376.2 607.1,371.4 610.7,361.9 613.8,359 617.1,371.4 620.2,383.3 622.6,375.5 625.7,389.3 628.6,401.2 631,410.7 633.8,394 636.9,385.7 640,387.4 642.4,386.4 645.2,396 648.8,396.9 652.4,396.4 656,391.7 659,394 661.9,385.7 664.3,391.7 667.9,378.6 669.8,374.3 672.6,384.5 676.2,387.4 678.6,386.4 681,394 683.8,381.7 686.9,384.5 689.3,392.9 692.4,384 695.2,382.1 698.1,385.7 700.5,394 702.9,399.3 706,389.8 708.3,385 711.4,395.2 714.3,394.5 716.7,402.4 719.5,396.9 722.6,396.4 725.7,397.6 728.6,410.7 731,417.9 734.5,411.9"/>
<path fill="none" stroke="#dcbd2e" stroke-width="1.3" stroke-linejoin="round" d="M0,410.7C1.2,409.9 4.8,407.3 7.1,406C9.5,404.6 11.9,403.4 14.3,402.4C16.7,401.4 19.4,400 21.4,400C23.4,400 24.2,401.6 26.2,402.4C28.2,403.2 30.6,404.4 33.3,404.8C36.1,405.1 39.7,404.6 42.9,404.3C46,404 49.6,403.7 52.4,403.1C55.2,402.5 57.5,401.8 59.5,400.7C61.5,399.6 62.3,398.5 64.3,396.4C66.3,394.3 68.7,390.5 71.4,388.1C74.2,385.7 77.8,384.1 81,382.1C84.1,380.2 87.3,378.6 90.5,376.2C93.7,373.8 96.8,370.4 100,367.9C103.2,365.3 106.7,362.4 109.5,360.7C112.3,359 113.9,358.7 116.7,357.9C119.4,357 123,356.2 126.2,355.5C129.4,354.8 132.1,353.6 135.7,353.6C139.3,353.6 144,355 147.6,355.5C151.2,356 154,356.3 157.1,356.4C160.3,356.6 163.5,355.9 166.7,356.4C169.8,356.9 173.4,358.7 176.2,359.5C179,360.3 181,361 183.3,361.2C185.7,361.4 187.7,360.9 190.5,360.7C193.3,360.6 197.2,360.7 200,360.2C202.8,359.8 204.8,358.8 207.1,357.9C209.5,356.9 211.9,355.6 214.3,354.8C216.7,354 218.7,353.4 221.4,353.1C224.2,352.8 227.8,353.1 231,353.1C234.1,353.1 237.3,353.3 240.5,353.1C243.7,352.9 247,352.1 250,351.7C253,351.3 256.2,350.3 258.3,350.7C260.5,351.1 260.9,352.8 263.1,354C265.3,355.3 268.5,357.1 271.4,358.3C274.4,359.5 277.8,360.2 281,361.2C284.1,362.2 287.3,363 290.5,364.3C293.7,365.6 296.8,368.1 300,369C303.2,370 306.7,369.5 309.5,369.8C312.3,370 314.3,369.9 316.7,370.7C319,371.5 321.6,373.5 323.8,374.5C326,375.6 327.8,376.5 329.8,376.9C331.7,377.3 333.5,377.4 335.7,376.9C337.9,376.4 340.1,375.1 342.9,373.8C345.6,372.5 349.6,370.8 352.4,369C355.2,367.3 357.1,365.2 359.5,363.1C361.9,361 364.3,357.9 366.7,356.4C369,354.9 371.4,354.7 373.8,354C376.2,353.4 378.6,352.9 381,352.4C383.3,351.9 385.7,351.3 388.1,351.2C390.5,351.1 393.3,351.5 395.2,351.7C397.2,351.9 398.4,351.3 400,352.4C401.6,353.4 402.8,356.4 404.8,357.9C406.7,359.3 409.1,359.9 411.9,361.2C414.7,362.5 418.7,364.3 421.4,365.5C424.2,366.7 425.8,367.7 428.6,368.3C431.3,368.9 435.3,369.8 438.1,369C440.9,368.3 442.9,364.6 445.2,363.6C447.6,362.5 450,362.4 452.4,362.6C454.8,362.9 457.1,364.4 459.5,365C461.9,365.6 464.3,364.7 466.7,366C469,367.2 471.4,370.1 473.8,372.6C476.2,375.1 478.8,378.8 481,381C483.1,383.1 485.1,384.7 486.9,385.7C488.7,386.7 489.9,386.8 491.7,386.9C493.5,387 495.4,386.5 497.6,386.4C499.8,386.3 502.4,387.1 504.8,386.4C507.1,385.8 509.5,384.1 511.9,382.6C514.3,381.1 516.9,379 519,377.4C521.2,375.7 523,373.2 525,372.6C527,372 528.8,373.2 531,373.8C533.1,374.4 535.7,375.5 538.1,376.2C540.5,376.9 542.5,377.5 545.2,377.9C548,378.3 552,377.9 554.8,378.6C557.5,379.2 559.9,381.1 561.9,381.7C563.9,382.3 564.7,382.7 566.7,382.1C568.7,381.6 571.4,379.8 573.8,378.6C576.2,377.4 578.6,375.5 581,375C583.3,374.5 585.7,374.9 588.1,375.5C590.5,376.1 593.3,377.9 595.2,378.6C597.2,379.3 598,379.8 600,379.8C602,379.8 604.8,379.2 607.1,378.6C609.5,378 611.9,376.3 614.3,376.2C616.7,376.1 618.7,376.9 621.4,377.9C624.2,378.8 628.2,381.6 631,382.1C633.7,382.7 635.7,380.8 638.1,381C640.5,381.2 642.9,381.9 645.2,383.3C647.6,384.7 650,387.7 652.4,389.3C654.8,390.9 657.3,392.1 659.5,392.9C661.7,393.6 663.5,394.1 665.5,393.6C667.5,393.1 668.8,390.4 671.4,389.8C674,389.1 678.2,390 681,389.8C683.7,389.5 685.3,388.7 688.1,388.1C690.9,387.5 694.8,386.4 697.6,386.2C700.4,386 702,386.5 704.8,386.9C707.5,387.3 711.1,387.9 714.3,388.8C717.5,389.7 721.2,391.1 723.8,392.1C726.4,393.2 728,394.1 729.8,395.2C731.5,396.3 733.7,398.2 734.5,398.8"/>
<defs><clipPath id="fc"><circle cx="0" cy="0" r="8"/></clipPath></defs>
<circle cx="745.1" cy="315.1" r="10.05" fill="#000" stroke="#f23645" stroke-width="1.7"/>
<g transform="translate(745.1 315.1)">
<g clip-path="url(#fc)">
<rect x="-9" y="-9" width="18" height="18" fill="#fff"/>
<rect x="-9" y="-9" width="18" height="3.7" fill="#f44336"/>
<rect x="-9" y="-3.05" width="18" height="3.9" fill="#f44336"/>
<rect x="-9" y="4.4" width="18" height="5" fill="#f44336"/>
<rect x="-9" y="-9" width="10.3" height="10.1" fill="#2f80ed"/>
<g fill="#fff">
<rect x="-6" y="-6.3" width="1" height="1"/>
<rect x="-3.4" y="-6.3" width="1" height="1"/>
<rect x="-0.8" y="-6.3" width="1" height="1"/>
<rect x="-6" y="-3.6" width="1" height="1"/>
<rect x="-3.4" y="-3.6" width="1" height="1"/>
<rect x="-0.8" y="-3.6" width="1" height="1"/>
<rect x="-6" y="-0.9" width="1" height="1"/>
<rect x="-3.4" y="-0.9" width="1" height="1"/>
<rect x="-0.8" y="-0.9" width="1" height="1"/>
</g></g></g>
<circle cx="738.5" cy="315.1" r="11.8" fill="#000"/>
<circle cx="738.5" cy="315.1" r="10.05" fill="#000" stroke="#f23645" stroke-width="1.7"/>
<circle cx="736.8" cy="315.1" r="11.6" fill="#000"/>
<circle cx="736.8" cy="315.1" r="10.05" fill="#000" stroke="#f23645" stroke-width="1.7"/>
<g transform="translate(736.8 315.1)">
<g clip-path="url(#fc)">
<rect x="-9" y="-9" width="18" height="18" fill="#fff"/>
<rect x="-9" y="-9" width="18" height="3.7" fill="#f44336"/>
<rect x="-9" y="-3.05" width="18" height="3.9" fill="#f44336"/>
<rect x="-9" y="4.4" width="18" height="5" fill="#f44336"/>
<rect x="-9" y="-9" width="10.3" height="10.1" fill="#2f80ed"/>
<g fill="#fff">
<rect x="-6" y="-6.3" width="1" height="1"/>
<rect x="-3.4" y="-6.3" width="1" height="1"/>
<rect x="-0.8" y="-6.3" width="1" height="1"/>
<rect x="-6" y="-3.6" width="1" height="1"/>
<rect x="-3.4" y="-3.6" width="1" height="1"/>
<rect x="-0.8" y="-3.6" width="1" height="1"/>
<rect x="-6" y="-0.9" width="1" height="1"/>
<rect x="-3.4" y="-0.9" width="1" height="1"/>
<rect x="-0.8" y="-0.9" width="1" height="1"/>
</g></g></g>
<rect x="905" y="29.8" width="59.8" height="33.1" rx="1.5" fill="#4caf50"/>
<rect x="905" y="97.5" width="59.8" height="33.9" fill="#2962ff"/>
<rect x="905" y="167.3" width="59.8" height="34.2" fill="#2962ff"/>
<rect x="905" y="29.9" width="59.8" height="16.4" fill="#4caf50"/>
<text class="lb" x="914" y="42.4" fill="#fff" stroke="#fff">26,016.2</text>
<rect x="905" y="46.3" width="59.8" height="16.6" fill="#4caf50"/>
<text class="lb" x="914" y="58.9" fill="#fff" stroke="#fff">25,425.0</text>
<rect x="905" y="62.9" width="59.8" height="17.6" fill="#b5b5b5"/>
<text class="lb" x="914" y="76" fill="#000" stroke="#000">24,858.2</text>
<rect x="905" y="80.5" width="59.8" height="17" fill="#4dd0e1"/>
<text class="lb" x="914" y="93.3" fill="#000" stroke="#000">24,482.5</text>
<rect x="905" y="97.5" width="59.8" height="17" fill="#2962ff"/>
<text class="lb" x="914" y="110.3" fill="#fff" stroke="#fff">24,350.0</text>
<rect x="905" y="114.5" width="59.8" height="16.9" fill="#2962ff"/>
<text class="lb" x="914" y="127.2" fill="#fff" stroke="#fff">24,022.5</text>
<rect x="905" y="134.5" width="59.8" height="32.8" fill="#4caf50"/>
<text class="lb" x="914" y="148.2" fill="#fff" stroke="#fff">23,238.7</text>
<text class="lb" x="914" y="161.6" fill="#fff" fill-opacity="0.85">12:31:27</text>
<rect x="905" y="167.3" width="59.8" height="17.3" fill="#2962ff"/>
<text class="lb" x="914" y="180.2" fill="#fff" stroke="#fff">23,000.0</text>
<rect x="905" y="184.6" width="59.8" height="16.9" fill="#2962ff"/>
<text class="lb" x="914" y="197.4" fill="#fff" stroke="#fff">21,467.4</text>
<text class="ax" x="914" y="235.4">20,000.0</text>
<text class="ax" x="914" y="289.6">18,000.0</text>
<text class="ax" x="913.6" y="336.9">80.00</text>
<text class="ax" x="913.6" y="370.1">60.00</text>
<rect x="905" y="387.6" width="42.4" height="17.2" fill="#fdd835"/>
<text class="lb" x="913.6" y="400.5" fill="#000" stroke="#000">40.37</text>
<rect x="905" y="404.8" width="42.4" height="16.6" fill="#7e57c2"/>
<text class="lb" x="913.6" y="417.4" fill="#fff" stroke="#fff">32.09</text>
<text class="ax" x="913.6" y="436.8">20.00</text>
<rect x="907.9" y="0.3" width="57.4" height="25.1" rx="4" fill="#131313" stroke="#2a2a2a" stroke-width="1"/>
<text class="t" x="917.5" y="16.8" style="fill:#e6e6e6;stroke:#e6e6e6" textLength="20.6" lengthAdjust="spacingAndGlyphs">USD</text>
<text class="t" x="4.3" y="16.1" style="fill:#fff;stroke:#fff" textLength="120.7" lengthAdjust="spacingAndGlyphs">US 100 Cash CFD · 1D ·</text>
<text class="t" x="4.3" y="32.8" style="fill:#fff;stroke:#fff" textLength="81.1" lengthAdjust="spacingAndGlyphs">SMA (50, close)</text>
<text class="t" x="93" y="32.8" style="fill:#9e9e9e;stroke:#9e9e9e" textLength="46" lengthAdjust="spacingAndGlyphs">24,858.2</text>
<text class="t" x="4.3" y="50.2" style="fill:#fff;stroke:#fff" textLength="87.7" lengthAdjust="spacingAndGlyphs">SMA (200, close)</text>
<text class="t" x="99.4" y="50.2" style="fill:#43c6db;stroke:#43c6db" textLength="45.6" lengthAdjust="spacingAndGlyphs">24,482.5</text>
<text class="t" x="198.8" y="16.3" style="fill:#fff;stroke:#fff">O</text>
<text class="t" x="207.4" y="16.3" style="fill:#4caf50;stroke:#4caf50" textLength="44.9" lengthAdjust="spacingAndGlyphs">23,068.3</text>
<text class="t" x="260.4" y="16.3" style="fill:#fff;stroke:#fff">H</text>
<text class="t" x="269" y="16.3" style="fill:#4caf50;stroke:#4caf50" textLength="45.3" lengthAdjust="spacingAndGlyphs">23,250.4</text>
<text class="t" x="322" y="16.3" style="fill:#fff;stroke:#fff">L</text>
<text class="t" x="328.4" y="16.3" style="fill:#4caf50;stroke:#4caf50" textLength="45.3" lengthAdjust="spacingAndGlyphs">22,910.9</text>
<text class="t" x="381.6" y="16.3" style="fill:#fff;stroke:#fff">C</text>
<text class="t" x="390" y="16.3" style="fill:#4caf50;stroke:#4caf50" textLength="45.3" lengthAdjust="spacingAndGlyphs">23,238.7</text>
<text class="t" x="443.6" y="16.3" style="fill:#4caf50;stroke:#4caf50" textLength="84.1" lengthAdjust="spacingAndGlyphs">+170.4 (+0.74%)</text>
<rect x="3.5" y="337" width="76.5" height="13" fill="#000"/>
<rect x="88" y="337" width="29.2" height="13" fill="#000"/>
<rect x="124" y="337" width="31" height="13" fill="#000"/>
<text class="t" x="4.3" y="348.2" style="fill:#fff;stroke:#fff" textLength="75.5" lengthAdjust="spacingAndGlyphs">RSI (14, close)</text>
<text class="t" x="88.6" y="348.2" style="fill:#7e57c2;stroke:#7e57c2" textLength="28.5" lengthAdjust="spacingAndGlyphs">32.09</text>
<text class="t" x="125" y="348.2" style="fill:#e6c229;stroke:#e6c229" textLength="28.6" lengthAdjust="spacingAndGlyphs">40.37</text>
<text class="t" x="17.5" y="457.3" text-anchor="middle" style="stroke:#fff">Apr</text>
<text class="t" x="79.5" y="457.3" text-anchor="middle" style="stroke:#fff">May</text>
<text class="t" x="140.8" y="457.3" text-anchor="middle" style="stroke:#fff">Jun</text>
<text class="t" x="199.5" y="457.3" text-anchor="middle" style="stroke:#fff">Jul</text>
<text class="t" x="263.5" y="457.3" text-anchor="middle" style="stroke:#fff">Aug</text>
<text class="t" x="321.8" y="457.3" text-anchor="middle" style="stroke:#fff">Sep</text>
<text class="t" x="383.2" y="457.3" text-anchor="middle" style="stroke:#fff">Oct</text>
<text class="t" x="447.5" y="457.3" text-anchor="middle" style="stroke:#fff">Nov</text>
<text class="t" x="503" y="457.3" text-anchor="middle" style="stroke:#fff">Dec</text>
<text class="t" x="564.3" y="457.3" text-anchor="middle" style="stroke:#fff" font-weight="bold">2026</text>
<text class="t" x="623" y="457.3" text-anchor="middle" style="stroke:#fff">Feb</text>
<text class="t" x="679" y="457.3" text-anchor="middle" style="stroke:#fff">Mar</text>
<text class="t" x="739.8" y="457.3" text-anchor="middle" style="stroke:#fff">Apr</text>
<text class="t" x="800.8" y="457.3" text-anchor="middle" style="stroke:#fff">May</text>
<text class="t" x="859.8" y="457.3" text-anchor="middle" style="stroke:#fff">Jun</text>
</svg></body></html>
